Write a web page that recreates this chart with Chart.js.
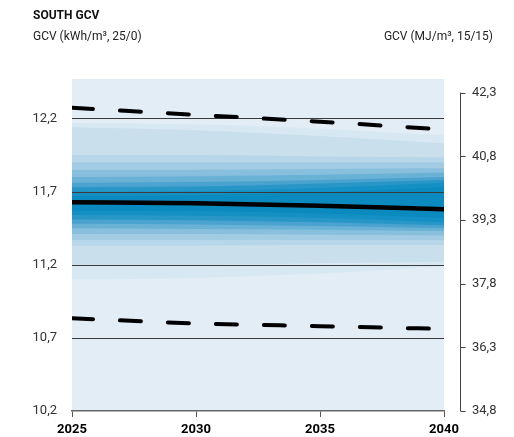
<!DOCTYPE html>
<html>
<head>
<meta charset="utf-8">
<script src="https://cdn.jsdelivr.net/npm/chart.js@4"></script>
<style>
body { margin: 0; background: #fff; font-family: Roboto, sans-serif; }
#wrap { position: relative; width: 514px; height: 437px; }
#myChart { display: block; }
.t { position: absolute; line-height: 1; color: #222; white-space: nowrap; }
</style>
</head>
<body>
<div id="wrap">
  <canvas id="myChart" width="514" height="437"></canvas>
  <div class="t" style="left:33px;top:8.6px;font-size:12px;font-weight:700;color:#111">SOUTH GCV</div>
  <div class="t" style="left:33px;top:30px;font-size:12px">GCV (kWh/m³, 25/0)</div>
  <div class="t" style="right:21px;top:30px;font-size:12px">GCV (MJ/m³, 15/15)</div>
</div>
<script>
const ctx = document.getElementById('myChart').getContext('2d');

const years = [2025, 2030, 2035, 2040];
const median = [11.628, 11.621, 11.604, 11.580];
const upperDash = [12.273, 12.225, 12.178, 12.125];
const lowerDash = [10.834, 10.799, 10.780, 10.761];

// fan bands, outermost first
const bandHi = [
    [12.17, 12.16, 12.13, 12.085],
    [12.14, 12.12, 12.08, 12.03],
    [11.95, 11.95, 11.94, 11.935],
    [11.90, 11.90, 11.90, 11.90],
    [11.85, 11.85, 11.855, 11.86],
    [11.80, 11.805, 11.815, 11.83],
    [11.76, 11.765, 11.78, 11.80],
    [11.73, 11.735, 11.755, 11.78],
    [11.70, 11.705, 11.725, 11.76],
    [11.67, 11.675, 11.695, 11.73]
];
const bandLo = [
    [11.10, 11.11, 11.14, 11.19],
    [11.20, 11.20, 11.21, 11.22],
    [11.33, 11.33, 11.335, 11.335],
    [11.37, 11.37, 11.37, 11.37],
    [11.41, 11.41, 11.405, 11.40],
    [11.45, 11.445, 11.44, 11.43],
    [11.48, 11.475, 11.465, 11.45],
    [11.51, 11.505, 11.49, 11.47],
    [11.54, 11.535, 11.52, 11.49],
    [11.57, 11.565, 11.55, 11.52]
];
const bandColors = ['#d8e8f2', '#c9dfec', '#b8d6e9', '#a3cce4', '#88bfdd', '#6ab1d6',
                    '#4aa3cf', '#2996c8', '#1590c4', '#0a8abf'];

const leftTicks = [10.2, 10.7, 11.2, 11.7, 12.2];
const rightTicks = [34.8, 36.3, 37.8, 39.3, 40.8, 42.3];
const xTicks = [2025, 2030, 2035, 2040];

const toPts = arr => arr.map((y, i) => ({x: years[i], y: y}));
const comma = v => Number(v).toFixed(1).replace('.', ',');

let datasets = [];
datasets.push({
    label: 'median', data: toPts(median), yAxisID: 'y',
    borderColor: '#000', borderWidth: 4.5, pointRadius: 0, fill: false, order: 0,
    cubicInterpolationMode: 'monotone'
});
datasets.push({
    label: 'upper', data: toPts(upperDash), yAxisID: 'y',
    borderColor: '#000', borderWidth: 4, borderDash: [21, 27], borderCapStyle: 'round',
    pointRadius: 0, fill: false, order: 0, cubicInterpolationMode: 'monotone'
});
datasets.push({
    label: 'lower', data: toPts(lowerDash), yAxisID: 'y',
    borderColor: '#000', borderWidth: 4, borderDash: [21, 27], borderCapStyle: 'round',
    pointRadius: 0, fill: false, order: 0, cubicInterpolationMode: 'monotone'
});
bandHi.forEach((hi, i) => {
    let ord = 100 - i;
    datasets.push({
        label: 'band' + i + 'hi', data: toPts(hi), yAxisID: 'y',
        fill: '+1', backgroundColor: bandColors[i], borderWidth: 0, pointRadius: 0,
        order: ord, cubicInterpolationMode: 'monotone', gridAfter: i === bandHi.length - 1
    });
    datasets.push({
        label: 'band' + i + 'lo', data: toPts(bandLo[i]), yAxisID: 'y',
        fill: false, borderWidth: 0, pointRadius: 0,
        order: ord, cubicInterpolationMode: 'monotone'
    });
});

const extras = {
    id: 'extras',
    beforeDraw(chart) {
        const a = chart.chartArea, c = chart.ctx;
        c.save();
        c.fillStyle = '#e2edf6';
        c.fillRect(a.left, a.top, a.right - a.left, a.bottom - a.top);
        c.restore();
    },
    afterDatasetDraw(chart, args) {
        if (!chart.data.datasets[args.index].gridAfter) return;
        const a = chart.chartArea, c = chart.ctx, s = chart.scales.y;
        c.save();
        c.strokeStyle = '#3a3a3a';
        c.lineWidth = 1;
        leftTicks.slice(1).forEach(v => {
            let py = Math.round(s.getPixelForValue(v)) + 0.5;
            c.beginPath(); c.moveTo(a.left, py); c.lineTo(a.right, py); c.stroke();
        });
        c.restore();
    },
    afterDraw(chart) {
        const c = chart.ctx, s = chart.scales.y2;
        let x = s.left + 16.5;
        let top = s.getPixelForValue(rightTicks[rightTicks.length - 1]);
        let bot = s.getPixelForValue(rightTicks[0]);
        c.save();
        c.strokeStyle = '#444';
        c.lineWidth = 1;
        c.beginPath(); c.moveTo(x, top); c.lineTo(x, bot); c.stroke();
        rightTicks.forEach(v => {
            let py = Math.round(s.getPixelForValue(v)) + 0.5;
            c.beginPath(); c.moveTo(x, py); c.lineTo(x + 5, py); c.stroke();
        });
        c.restore();
    }
};

function fitY(w) {
    return s => {
        s.width = w;
        s.paddingTop = 0;
        s.paddingBottom = 0;
    };
}

const myChart = new Chart(ctx, {
    type: 'line',
    data: { datasets: datasets },
    options: {
        responsive: false,
        animation: false,
        events: [],
        layout: { autoPadding: false, padding: { left: 24, top: 79, right: 0, bottom: 0 } },
        plugins: { legend: { display: false }, tooltip: { enabled: false } },
        scales: {
            x: {
                type: 'linear', min: 2025, max: 2040,
                afterBuildTicks: s => { s.ticks = xTicks.map(v => ({value: v})); },
                afterFit: s => { s.height = 26; },
                grid: { drawOnChartArea: false, drawTicks: true, tickLength: 6, color: '#555', lineWidth: 1 },
                border: { display: true, color: '#666', width: 1.5 },
                ticks: {
                    padding: 5, color: '#000', maxRotation: 0,
                    font: { family: 'Roboto', size: 13, weight: 'bold' },
                    callback: v => String(v)
                }
            },
            y: {
                position: 'left', min: 10.2, max: 12.47,
                afterBuildTicks: s => { s.ticks = leftTicks.map(v => ({value: v})); },
                afterFit: fitY(48),
                grid: { display: false, drawTicks: false },
                border: { display: false },
                ticks: {
                    padding: 15, color: '#333',
                    font: { family: 'Roboto', size: 13 },
                    callback: v => comma(v)
                }
            },
            y2: {
                position: 'right', min: 34.8, max: 42.62,
                afterBuildTicks: s => { s.ticks = rightTicks.map(v => ({value: v})); },
                afterFit: fitY(70),
                grid: { display: false, drawTicks: false },
                border: { display: false },
                ticks: {
                    padding: 28, color: '#333',
                    font: { family: 'Roboto', size: 13 },
                    callback: v => comma(v)
                }
            }
        }
    },
    plugins: [extras]
});
</script>
</body>
</html>
